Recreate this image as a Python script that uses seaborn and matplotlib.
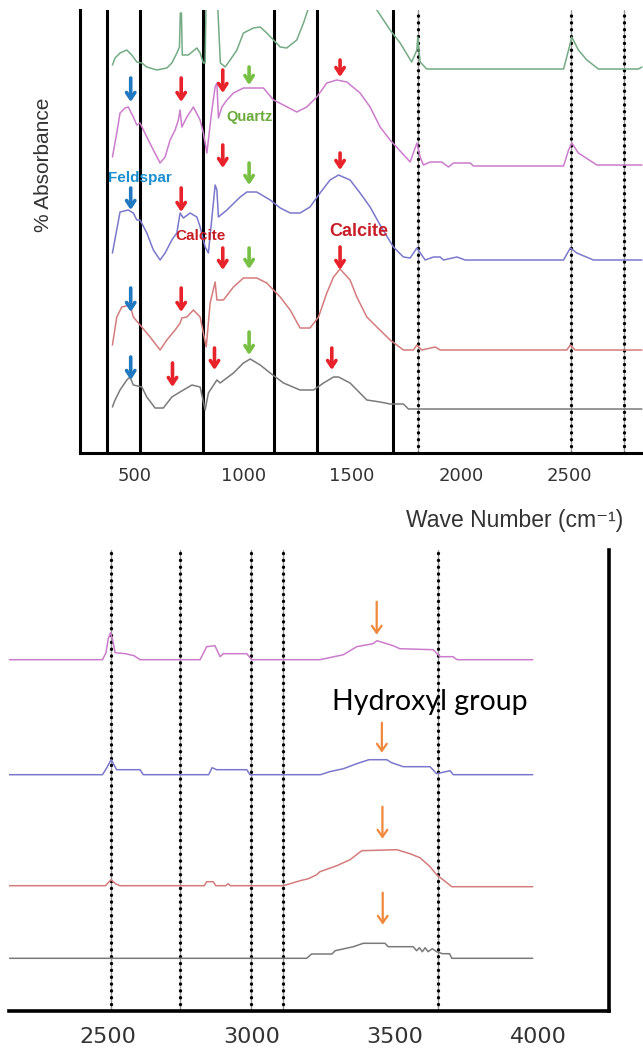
import matplotlib
matplotlib.use("Agg")
import matplotlib.pyplot as plt
import seaborn as sns

sns.set_style("white")
plt.rcParams['font.family'] = ['DejaVu Sans']

# ---------------- DATA: top panel (wavenumber, arbitrary absorbance offset) ----------------
green_wn = [399, 411, 434, 465, 488, 511, 534, 557, 603, 649, 672, 695, 707, 711, 716, 720, 748, 787, 802, 817, 825,
            830, 880, 895, 917, 940, 971, 1001, 1047, 1078, 1108, 1139, 1170, 1200, 1246, 1277, 1300, 1320, 1600, 1614,
            1675, 1721, 1774, 1798, 1802, 1813, 1843, 2472, 2495, 2510, 2540, 2579, 2632, 2816, 2832]
green_ab = [38.8, 39.5, 40.0, 40.3, 39.8, 39.1, 39.0, 38.6, 38.3, 38.5, 39.0, 40.0, 40.6, 44.0, 44.0, 39.8, 39.8, 40.5,
            40.0, 39.0, 39.0, 46.0, 46.0, 39.0, 38.6, 39.3, 40.3, 42.0, 42.5, 42.6, 42.0, 41.3, 40.6, 40.5, 41.3, 43.0,
            44.5, 46.0, 46.0, 44.3, 42.3, 41.0, 39.1, 40.3, 41.6, 39.1, 38.4, 38.4, 40.3, 41.6, 40.3, 39.3, 38.4, 38.4, 38.6]

pink_wn = [399, 419, 434, 457, 472, 495, 511, 526, 557, 587, 618, 641, 664, 687, 702, 710, 718, 741, 771, 802, 817, 833,
           856, 871, 879, 886, 902, 925, 955, 1001, 1093, 1139, 1185, 1246, 1292, 1338, 1384, 1430, 1476, 1537, 1583,
           1629, 1675, 1767, 1798, 1813, 1828, 1859, 1912, 1943, 1966, 2043, 2058, 2472, 2495, 2510, 2540, 2625, 2832]
pink_ab = [29.6, 32.0, 34.0, 34.5, 34.6, 33.6, 32.8, 33.0, 31.6, 30.3, 29.0, 29.6, 31.3, 32.3, 33.3, 34.3, 32.6, 33.6,
           34.6, 33.3, 32.0, 30.0, 34.3, 36.6, 37.0, 33.5, 34.6, 35.3, 36.0, 36.5, 36.5, 35.3, 34.8, 34.1, 34.6, 35.6,
           37.0, 37.3, 37.1, 36.0, 34.6, 32.6, 31.3, 29.1, 31.0, 29.6, 28.8, 29.1, 29.1, 28.6, 29.0, 29.0, 28.7, 28.7,
           30.3, 31.0, 30.0, 28.8, 28.8]

blue_wn = [399, 434, 472, 495, 511, 526, 557, 587, 618, 641, 672, 695, 710, 725, 756, 787, 802, 825, 840, 871, 879, 886,
           925, 986, 1017, 1062, 1124, 1170, 1216, 1261, 1307, 1353, 1399, 1438, 1491, 1537, 1583, 1629, 1690, 1736,
           1767, 1798, 1836, 1874, 1905, 1920, 1982, 2020, 2472, 2503, 2533, 2609, 2832]
blue_ab = [20.0, 24.1, 24.3, 24.0, 23.3, 23.3, 22.0, 20.3, 19.3, 20.0, 21.3, 22.0, 24.0, 23.5, 24.0, 23.6, 22.6, 20.6,
           20.0, 26.8, 26.3, 23.6, 24.3, 25.6, 26.1, 26.1, 25.3, 24.5, 24.0, 24.0, 24.6, 26.0, 27.3, 27.8, 27.3, 26.0,
           24.6, 22.8, 20.6, 19.6, 19.5, 20.5, 19.3, 19.6, 19.6, 19.3, 19.6, 19.3, 19.3, 20.5, 20.0, 19.3, 19.3]

red_wn = [399, 419, 442, 480, 495, 526, 572, 618, 649, 687, 710, 718, 741, 771, 802, 830, 848, 871, 879, 909, 955, 1001,
          1062, 1108, 1170, 1216, 1261, 1307, 1346, 1384, 1415, 1445, 1491, 1522, 1568, 1614, 1675, 1736, 1782, 1798,
          1820, 1882, 1905, 2487, 2503, 2525, 2832]
red_ab = [10.8, 13.6, 14.6, 14.8, 13.6, 12.8, 11.6, 10.3, 11.3, 12.3, 13.0, 13.5, 13.6, 14.3, 13.6, 10.6, 15.0, 17.1,
          15.3, 15.3, 16.6, 17.5, 17.5, 17.0, 15.6, 14.3, 12.5, 12.5, 13.6, 16.0, 17.6, 18.4, 17.3, 15.6, 13.6, 12.6,
          11.3, 10.3, 10.3, 10.8, 10.3, 10.6, 10.3, 10.3, 10.8, 10.3, 10.3]

gray_wn = [399, 411, 434, 465, 480, 495, 534, 557, 595, 633, 672, 702, 725, 764, 802, 825, 840, 879, 894, 955, 1001, 1032,
           1078, 1124, 1185, 1261, 1323, 1369, 1415, 1438, 1491, 1568, 1629, 1675, 1736, 1759, 2832]
gray_ab = [4.6, 5.3, 6.3, 7.3, 7.6, 6.8, 6.6, 5.6, 4.5, 4.5, 5.6, 6.0, 6.3, 6.8, 6.6, 4.3, 6.0, 7.3, 7.0, 8.0, 9.0, 9.4,
           8.8, 8.0, 7.0, 6.3, 6.3, 7.0, 7.6, 7.6, 7.0, 5.3, 5.1, 4.9, 4.9, 4.4, 4.4]

top_solid_lines = [376, 524, 814, 1142, 1338, 1687]
top_dotted_lines = [1805, 2507, 2750]
top_ticks_major = [500, 1000, 1500, 2000, 2500]
top_ticks_minor = [750, 1250, 1750, 2250, 2750]

# arrows: wavenumber, start, end, mineral
top_arrows_x = [483, 715, 906, 1027, 1445,
                483, 715, 906, 1027, 1445,
                483, 715, 906, 1027, 1445,
                483, 675, 868, 1027, 1407]
top_arrows_y0 = [37.5, 37.5, 38.3, 38.6, 39.3,
                 26.5, 26.5, 30.8, 29.0, 30.0,
                 16.5, 16.5, 20.5, 20.5, 20.6,
                 9.6, 9.0, 10.5, 12.1, 10.5]
top_arrows_y1 = [35.1, 35.1, 36.0, 36.8, 37.6,
                 24.3, 24.1, 28.5, 26.8, 28.3,
                 14.1, 14.1, 18.3, 18.4, 18.3,
                 7.3, 6.6, 8.3, 9.8, 8.3]
top_arrows_kind = ["feldspar", "calcite", "calcite", "quartz", "calcite"] * 4

# ---------------- DATA: bottom panel ----------------
bpink_wn = [2155, 2480, 2492, 2500, 2508, 2516, 2524, 2560, 2590, 2611, 2820, 2831, 2843, 2872, 2890, 2901, 2983, 3000,
            3238, 3320, 3366, 3423, 3437, 3493, 3517, 3633, 3657, 3702, 3716, 3980]
bpink_ab = [35.1, 35.1, 35.8, 37.2, 37.8, 37.0, 35.8, 35.7, 35.5, 35.1, 35.1, 35.7, 36.4, 36.5, 35.4, 35.7, 35.7, 35.1,
            35.1, 35.6, 36.4, 36.7, 37.0, 36.5, 36.2, 36.1, 35.4, 35.4, 35.1, 35.1]

bblue_wn = [2155, 2480, 2495, 2510, 2520, 2529, 2611, 2622, 2850, 2862, 2878, 2983, 2994, 3240, 3272, 3320, 3366, 3409,
            3471, 3488, 3529, 3622, 3645, 3692, 3703, 3980]
bblue_ab = [23.6, 23.6, 24.3, 25.1, 24.6, 24.1, 24.1, 23.6, 23.6, 24.3, 24.1, 24.1, 23.6, 23.6, 23.9, 24.2, 24.7, 25.1,
            25.1, 24.8, 24.4, 24.4, 23.7, 24.0, 23.6, 23.6]

bred_wn = [2155, 2490, 2510, 2525, 2541, 2835, 2843, 2866, 2875, 2910, 2918, 2926, 3110, 3134, 3169, 3198, 3227, 3238,
           3297, 3343, 3384, 3506, 3552, 3587, 3622, 3645, 3698, 3980]
bred_ab = [12.5, 12.5, 13.1, 12.7, 12.5, 12.5, 12.9, 12.9, 12.5, 12.5, 12.7, 12.5, 12.5, 12.7, 13.0, 13.2, 13.6, 13.9,
           14.5, 15.1, 16.0, 16.1, 15.7, 15.3, 14.4, 13.6, 12.4, 12.4]

bgray_wn = [2155, 3192, 3209, 3280, 3291, 3355, 3389, 3465, 3476, 3563, 3575, 3585, 3595, 3605, 3615, 3630, 3645, 3665,
            3690, 3698, 3980]
bgray_ab = [5.24, 5.24, 5.67, 5.67, 6.0, 6.4, 6.74, 6.74, 6.4, 6.4, 6.0, 6.3, 5.9, 6.3, 5.9, 6.2, 5.9, 5.7, 5.7, 5.24,
            5.24]

bottom_dotted_lines = [2510, 2750, 2997, 3108, 3651]
bottom_ticks_major = [2500, 3000, 3500, 4000]
bottom_ticks_minor = [2250, 2750, 3250, 3750]
bottom_arrows_x = [3436, 3454, 3456, 3457]
bottom_arrows_y0 = [40.9, 28.8, 20.4, 11.8]
bottom_arrows_y1 = [37.6, 25.8, 17.2, 8.6]

# ---------------- STYLE ----------------
C_GREEN = "#74ab84"
C_PINK = "#cc7ccc"
C_BLUE = "#7a78cc"
C_RED = "#d47c7c"
C_GRAY = "#7a7a7a"
ARROW_C = {"feldspar": "#1f78c0", "calcite": "#e8222a", "quartz": "#78c044"}
C_ORANGE = "#f0883c"

fig = plt.figure(figsize=(6.43, 10.5), dpi=100)
ax1 = fig.add_axes([80 / 643, 1 - 453 / 1050, 563 / 643, 443 / 1050])
ax2 = fig.add_axes([9.3 / 643, 1 - 1010.7 / 1050, 600 / 643, 460.7 / 1050])


def dotted_line(ax, x):
    ax.axvline(x, color="#9a9a9a", lw=1.0, zorder=1)
    ax.axvline(x, color="black", lw=2.4, linestyle=(0, (0.05, 2.0)), dash_capstyle="round", zorder=2)


# ---- top panel ----
for xv in top_solid_lines:
    ax1.axvline(xv, color="black", lw=2.2, zorder=1)
for xv in top_dotted_lines:
    dotted_line(ax1, xv)

for wn, ab, c in [(green_wn, green_ab, C_GREEN), (pink_wn, pink_ab, C_PINK), (blue_wn, blue_ab, C_BLUE),
                  (red_wn, red_ab, C_RED), (gray_wn, gray_ab, C_GRAY)]:
    sns.lineplot(x=wn, y=ab, ax=ax1, color=c, lw=1.1, estimator=None, sort=False, zorder=3)

for xv, y0, y1, k in zip(top_arrows_x, top_arrows_y0, top_arrows_y1, top_arrows_kind):
    ax1.annotate("", xy=(xv, y1), xytext=(xv, y0),
                 arrowprops=dict(arrowstyle="->,head_length=0.45,head_width=0.3", color=ARROW_C[k], lw=2.6,
                                 shrinkA=0, shrinkB=0), zorder=5)

lab_font = ["Liberation Sans", "DejaVu Sans"]
ax1.text(524, 27.5, "Feldspar", color="#1c8fd0", fontsize=11, fontweight="bold", ha="center", va="center",
         family=lab_font, zorder=6)
ax1.text(1030, 33.6, "Quartz", color="#6aaa3a", fontsize=10.5, fontweight="bold", ha="center", va="center",
         family=lab_font, zorder=6)
ax1.text(804, 21.7, "Calcite", color="#c81e28", fontsize=11, fontweight="bold", ha="center", va="center",
         family=lab_font, zorder=6)
ax1.text(1533, 22.1, "Calcite", color="#c81e28", fontsize=13, fontweight="bold", ha="center", va="center",
         family=lab_font, zorder=6)

ax1.set_xlim(250, 2837)
ax1.set_ylim(0, 44.3)
ax1.set_xticks(top_ticks_major)
ax1.set_xticks(top_ticks_minor, minor=True)
ax1.set_xticklabels([str(t) for t in top_ticks_major], fontsize=13, color="#333333")
ax1.set_yticks([])
ax1.tick_params(axis="x", which="major", direction="in", length=5, width=1.6, pad=10, color="black")
ax1.tick_params(axis="x", which="minor", direction="in", length=3, width=1.6, color="black")
for s in ["top", "right"]:
    ax1.spines[s].set_visible(False)
for s in ["left", "bottom"]:
    ax1.spines[s].set_linewidth(2.2)
    ax1.spines[s].set_color("black")
ax1.set_ylabel("% Absorbance", fontsize=15, family=lab_font, color="#333333")
ax1.yaxis.set_label_coords(-0.048, 0.65)
fig.text(515 / 643, 1 - 521 / 1050, "Wave Number (cm⁻¹)", fontsize=16.5, ha="center", va="center",
         family=lab_font, color="#333333")

# ---- bottom panel ----
for xv in bottom_dotted_lines:
    dotted_line(ax2, xv)

for wn, ab, c in [(bpink_wn, bpink_ab, C_PINK), (bblue_wn, bblue_ab, C_BLUE), (bred_wn, bred_ab, C_RED),
                  (bgray_wn, bgray_ab, C_GRAY)]:
    sns.lineplot(x=wn, y=ab, ax=ax2, color=c, lw=1.1, estimator=None, sort=False, zorder=3)

for xv, y0, y1 in zip(bottom_arrows_x, bottom_arrows_y0, bottom_arrows_y1):
    ax2.annotate("", xy=(xv, y1), xytext=(xv, y0),
                 arrowprops=dict(arrowstyle="->,head_length=0.5,head_width=0.35", color=C_ORANGE, lw=1.6,
                                 shrinkA=0, shrinkB=0), zorder=5)

ax2.text(3280, 30.9, "Hydroxyl group", fontsize=20.5, ha="left", va="center", family=["Lato", "DejaVu Sans"],
         color="black", zorder=6)

ax2.set_xlim(2155, 4247)
ax2.set_ylim(0, 46.07)
ax2.set_xticks(bottom_ticks_major)
ax2.set_xticks(bottom_ticks_minor, minor=True)
ax2.set_xticklabels([str(t) for t in bottom_ticks_major], fontsize=16, color="#333333")
ax2.set_yticks([])
ax2.tick_params(axis="x", which="major", direction="in", length=6, width=1.8, pad=12, color="black")
ax2.tick_params(axis="x", which="minor", direction="in", length=3.5, width=1.8, color="black")
for s in ["top", "left"]:
    ax2.spines[s].set_visible(False)
for s in ["right", "bottom"]:
    ax2.spines[s].set_linewidth(2.6)
    ax2.spines[s].set_color("black")

fig.savefig("out.png", dpi=100)
